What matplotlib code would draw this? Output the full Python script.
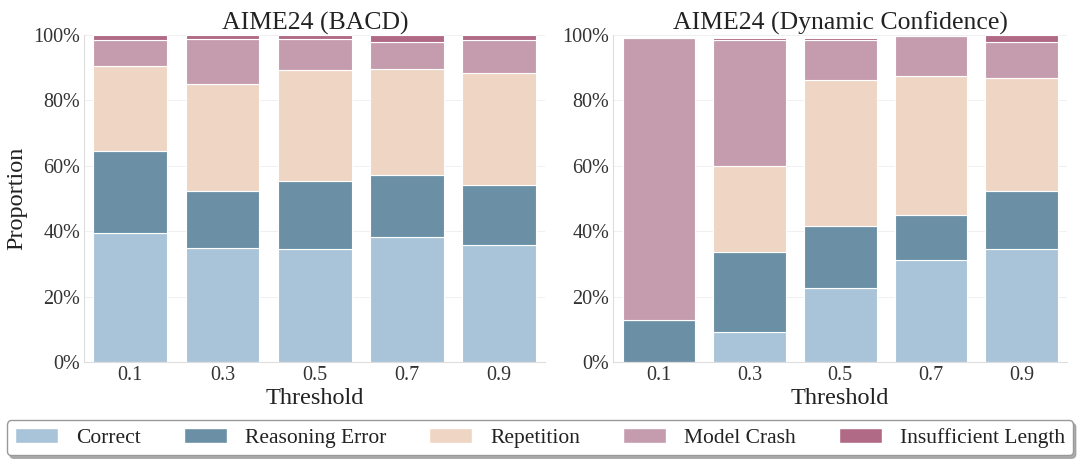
import matplotlib.pyplot as plt
import numpy as np
from matplotlib.ticker import PercentFormatter
from matplotlib.patches import Patch

plt.rcParams['font.family'] = ['Liberation Serif', 'DejaVu Serif']

# Data
thresholds = ['0.1', '0.3', '0.5', '0.7', '0.9']
categories = ['Correct', 'Reasoning Error', 'Repetition', 'Model Crash', 'Insufficient Length']
colors = ['#a9c4d9', '#6b90a6', '#efd5c3', '#c59cae', '#b06a86']

bacd_correct = [39.6, 34.9, 34.6, 38.3, 35.7]
bacd_reasoning = [24.9, 17.4, 20.7, 19.0, 18.4]
bacd_repetition = [26.0, 32.7, 34.0, 32.3, 34.3]
bacd_crash = [7.9, 13.8, 9.5, 8.4, 10.0]
bacd_insufficient = [1.6, 1.2, 1.2, 2.0, 1.6]

dyn_correct = [0.0, 9.2, 22.5, 31.3, 34.6]
dyn_reasoning = [12.7, 24.5, 19.0, 13.6, 17.7]
dyn_repetition = [0.0, 26.4, 44.8, 42.6, 34.5]
dyn_crash = [86.5, 38.4, 12.2, 12.2, 11.1]
dyn_insufficient = [0.0, 0.7, 0.7, 0.0, 2.1]

panels = [
    ('AIME24 (BACD)', [bacd_correct, bacd_reasoning, bacd_repetition, bacd_crash, bacd_insufficient]),
    ('AIME24 (Dynamic Confidence)', [dyn_correct, dyn_reasoning, dyn_repetition, dyn_crash, dyn_insufficient]),
]

fig = plt.figure(figsize=(10.8, 4.62), dpi=100)
axes = [fig.add_axes([0.078, 0.2165, 0.427, 0.7075]),
        fig.add_axes([0.568, 0.2165, 0.420, 0.7075])]

x = np.arange(len(thresholds))
for ax, (title, series) in zip(axes, panels):
    bottom = np.zeros(len(thresholds))
    for vals, c in zip(series, colors):
        v = np.array(vals) / 100
        ax.bar(x, v, width=0.8, bottom=bottom, color=c, edgecolor='white', linewidth=0.8)
        bottom += v
    ax.set_title(title, fontsize=18.5, pad=4, color='#222222')
    ax.set_xticks(x)
    ax.set_xticklabels(thresholds)
    ax.set_xlim(-0.5, 4.5)
    ax.set_ylim(0, 1)
    ax.set_yticks(np.arange(0, 1.01, 0.2))
    ax.yaxis.set_major_formatter(PercentFormatter(1, decimals=0))
    ax.tick_params(labelsize=14.5, length=0, colors='#333333', pad=3)
    ax.set_xlabel('Threshold', fontsize=17.5, labelpad=2, color='#222222')
    ax.grid(axis='y', color='#eeeeee', linewidth=0.6)
    ax.set_axisbelow(True)
    for s in ['top', 'right']:
        ax.spines[s].set_visible(False)
    for s in ['left', 'bottom']:
        ax.spines[s].set_color('#dddddd')

axes[0].set_ylabel('Proportion', fontsize=17.5, color='#222222')

handles = [Patch(facecolor=c, edgecolor='white', label=l) for c, l in zip(colors, categories)]
leg = fig.legend(handles=handles, loc='center', bbox_to_anchor=(0.5, 0.052), ncol=5,
                 fontsize=15.5, frameon=True, shadow={'color': '#999999', 'alpha': 0.8},
                 fancybox=True, columnspacing=2.0, handlelength=2.0, handleheight=0.65,
                 handletextpad=0.84, borderpad=0.35, borderaxespad=0.2, edgecolor='#999999')
for t in leg.get_texts():
    t.set_color('#222222')

fig.savefig('out.png', dpi=100)
